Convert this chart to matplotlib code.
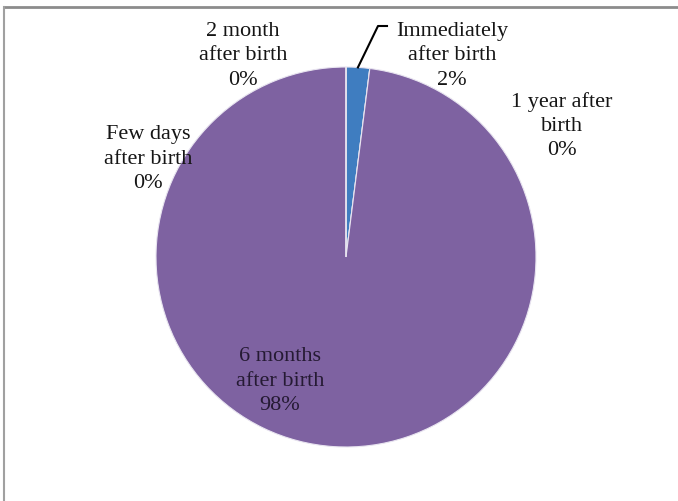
import numpy as np
import matplotlib
matplotlib.use("Agg")
import matplotlib.pyplot as plt
from matplotlib.lines import Line2D

categories = ["Immediately\nafter birth", "1 year after\nbirth", "6 months\nafter birth",
              "Few days\nafter birth", "2 month\nafter birth"]
values = [2, 0, 98, 0, 0]
pct_labels = ["2%", "0%", "98%", "0%", "0%"]
colors = ["#3F7DC0", "#8064A2", "#7E62A1", "#8064A2", "#8064A2"]

W, H = 678, 501
fig = plt.figure(figsize=(W / 100, H / 100), dpi=100)
fig.patch.set_facecolor("white")

cx, cy, r = 346, 501 - 257, 190
ax = fig.add_axes([(cx - r) / W, (cy - r) / H, 2 * r / W, 2 * r / H])

wedges, _ = ax.pie(values, colors=colors, startangle=90, counterclock=False,
                   radius=1, center=(0, 0),
                   wedgeprops=dict(edgecolor="#E8E4F0", linewidth=0.8))
ax.set_xlim(-1, 1)
ax.set_ylim(-1, 1)
ax.set_aspect("auto")
ax.axis("off")

font = dict(family=["Liberation Serif", "DejaVu Serif"], fontsize=16,
            color="#151515", ha="center", va="center", linespacing=1.36)

# label positions in pixel coords (center of text block, from top)
label_pos = [(452, 56), (562, 126), (280, 381), (148, 159), (243, 56)]
for cat, pct, (px, py), v in zip(categories, pct_labels, label_pos, values):
    col = "#251a33" if v > 50 else "#151515"
    fig.text(px / W, 1 - py / H, cat + "\n" + pct, **{**font, "color": col})

# leader line for the small slice
w0 = wedges[0]
mid = np.deg2rad((w0.theta1 + w0.theta2) / 2)
sx, sy = ax.transData.transform((np.cos(mid), np.sin(mid)))
pts = [(sx, sy), (378, H - 26), (387, H - 26)]
xs = [p[0] / W for p in pts]
ys = [p[1] / H for p in pts]
fig.add_artist(Line2D(xs, ys, transform=fig.transFigure, color="black", lw=1.5))

# frame
fig.add_artist(Line2D([4 / W, 1], [1 - 7 / H, 1 - 7 / H], transform=fig.transFigure,
                      color="#8C8C8C", lw=2))
fig.add_artist(Line2D([4 / W, 4 / W], [0, 1 - 7 / H], transform=fig.transFigure,
                      color="#A0A0A0", lw=1.5))

fig.savefig("out.png", dpi=100, facecolor="white")
